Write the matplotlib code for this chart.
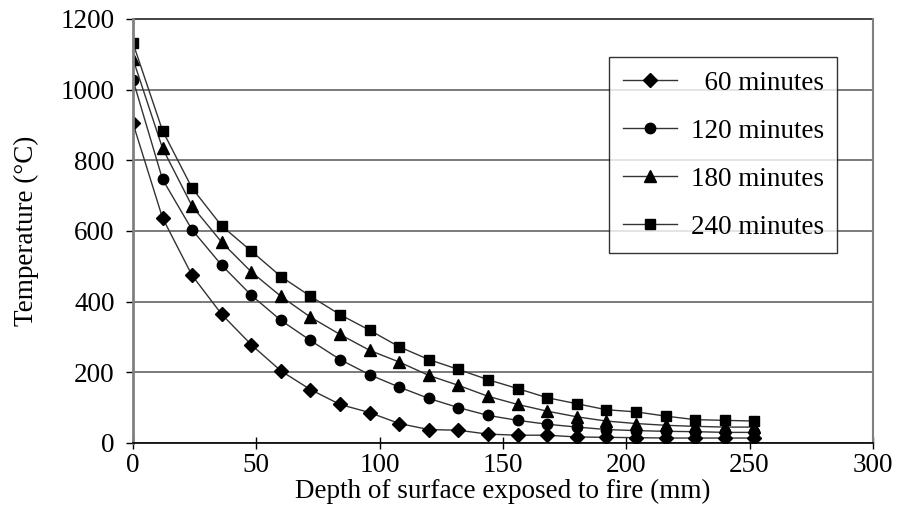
import numpy as np
import matplotlib
matplotlib.use("Agg")
import matplotlib.pyplot as plt

plt.rcParams['font.family'] = ['Liberation Serif', 'DejaVu Serif']

# depth from exposed face (mm)
depth = [0, 12, 24, 36, 48, 60, 72, 84, 96, 108, 120, 132, 144, 156,
         168, 180, 192, 204, 216, 228, 240, 252]

# temperatures (deg C)
t60 = [905, 637, 474, 364, 278, 204, 151, 109, 86, 55, 38, 36, 25, 22,
       22, 17, 16, 15, 14, 14, 14, 14]
t120 = [1028, 746, 603, 503, 418, 347, 290, 236, 193, 158, 126, 100, 78, 64,
        53, 45, 38, 35, 33, 32, 30, 30]
t180 = [1087, 834, 670, 568, 484, 415, 356, 307, 262, 229, 191, 163, 132, 109,
        90, 74, 62, 55, 50, 47, 45, 45]
t240 = [1132, 884, 721, 614, 543, 471, 415, 363, 319, 272, 236, 208, 179, 154,
        128, 111, 94, 88, 76, 66, 64, 62]

labels = ['  60 minutes', '120 minutes', '180 minutes', '240 minutes']
markers = ['D', 'o', '^', 's']
msizes = [7.5, 7.5, 8.5, 7.5]
fs = 19.5

fig = plt.figure(figsize=(8.98, 5.23), dpi=100)
ax = fig.add_axes([0.148, 0.153, 0.824, 0.811])

for y, lab, m, ms in zip([t60, t120, t180, t240], labels, markers, msizes):
    ax.plot(depth, y, color='#333333', lw=1.0, marker=m, ms=ms,
            mfc='black', mec='black', label=lab)

ax.set_xlim(0, 300)
ax.set_ylim(0, 1200)
ax.set_xticks(np.arange(0, 301, 50))
ax.set_yticks(np.arange(0, 1201, 200))
ax.yaxis.grid(True, color='#7a7a7a', lw=1.4)
ax.set_axisbelow(True)

ax.spines['top'].set_visible(False)
ax.spines['left'].set_color('#808080')
ax.spines['left'].set_linewidth(2)
ax.spines['right'].set_color('#808080')
ax.spines['right'].set_linewidth(1.5)
ax.spines['bottom'].set_color('black')
ax.spines['bottom'].set_linewidth(1.2)
ax.axhline(1200, color='#444444', lw=1.4, clip_on=False)

ax.tick_params(axis='x', direction='inout', length=8, width=1, labelsize=fs, pad=3)
ax.tick_params(axis='y', direction='out', length=5, width=1, labelsize=fs, pad=8)

ax.set_xlabel('Depth of surface exposed to fire (mm)', fontsize=fs, labelpad=1)
ax.set_ylabel('Temperature (°C)', fontsize=fs, labelpad=16)

leg = ax.legend(loc='upper right', bbox_to_anchor=(0.952, 0.91), fontsize=fs,
                frameon=True, fancybox=False, edgecolor='black',
                labelspacing=0.85, handlelength=2.0, borderpad=0.5,
                handletextpad=0.5, borderaxespad=0)
leg.get_frame().set_linewidth(1.0)

fig.savefig('out.png', dpi=100)
